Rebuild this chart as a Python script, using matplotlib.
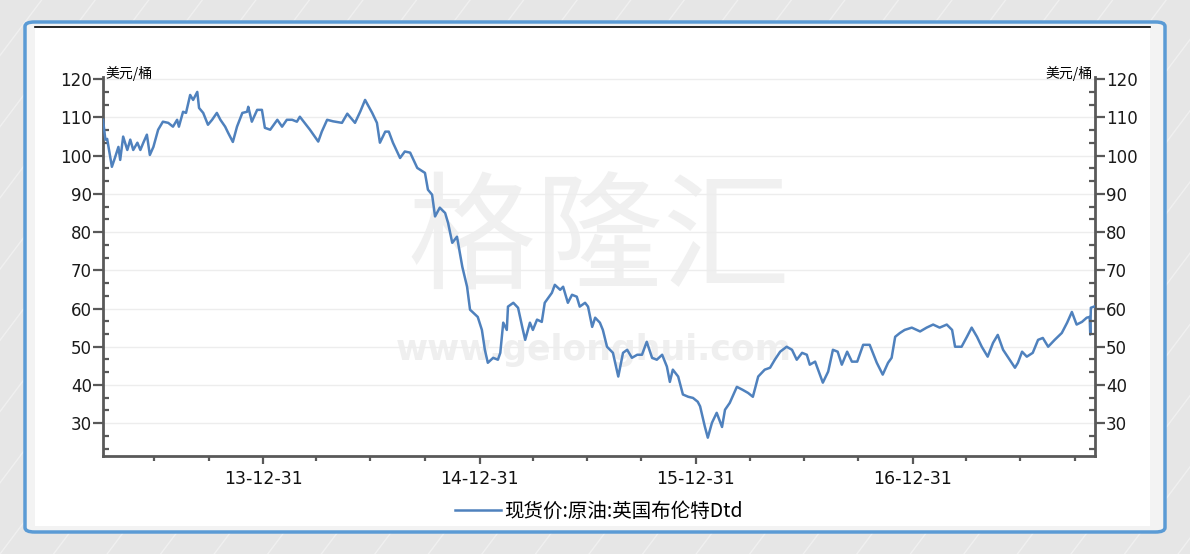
import matplotlib
matplotlib.use("Agg")
import matplotlib.pyplot as plt
import matplotlib.dates as mdates
from matplotlib.patches import FancyBboxPatch, Rectangle
from matplotlib.lines import Line2D
from matplotlib.ticker import MultipleLocator
import pandas as pd

plt.rcParams['font.family'] = ['Noto Sans CJK SC', 'DejaVu Sans']

# Brent Dtd spot price, USD/bbl
dates = [
    "2013-04-05", "2013-04-09", "2013-04-12", "2013-04-20", "2013-04-25", "2013-05-01",
    "2013-05-04", "2013-05-09", "2013-05-16", "2013-05-21", "2013-05-26", "2013-06-02",
    "2013-06-07", "2013-06-12", "2013-06-18", "2013-06-23", "2013-06-29", "2013-07-07",
    "2013-07-15", "2013-07-24", "2013-08-01", "2013-08-08", "2013-08-11", "2013-08-18",
    "2013-08-23", "2013-08-30", "2013-09-04", "2013-09-11", "2013-09-14", "2013-09-21",
    "2013-09-29", "2013-10-06", "2013-10-14", "2013-10-20", "2013-10-28", "2013-11-02",
    "2013-11-10", "2013-11-17", "2013-11-26", "2013-12-04", "2013-12-06", "2013-12-12",
    "2013-12-21", "2013-12-29", "2014-01-03", "2014-01-12", "2014-01-24", "2014-02-01",
    "2014-02-09", "2014-02-18", "2014-02-26", "2014-03-03", "2014-03-20", "2014-04-03",
    "2014-04-09", "2014-04-18", "2014-04-28", "2014-05-13", "2014-05-22", "2014-06-04",
    "2014-06-13", "2014-06-21", "2014-07-03", "2014-07-11", "2014-07-16", "2014-07-25",
    "2014-07-31", "2014-08-07", "2014-08-19", "2014-08-27", "2014-09-05", "2014-09-17",
    "2014-09-30", "2014-10-05", "2014-10-12", "2014-10-17", "2014-10-25", "2014-11-03",
    "2014-11-08", "2014-11-15", "2014-11-23", "2014-12-02", "2014-12-10", "2014-12-15",
    "2014-12-28", "2015-01-04", "2015-01-09", "2015-01-14", "2015-01-23", "2015-01-31",
    "2015-02-04", "2015-02-09", "2015-02-15", "2015-02-17", "2015-02-26", "2015-03-06",
    "2015-03-13", "2015-03-18", "2015-03-26", "2015-03-31", "2015-04-07", "2015-04-15",
    "2015-04-20", "2015-05-02", "2015-05-07", "2015-05-16", "2015-05-21", "2015-05-29",
    "2015-06-05", "2015-06-13", "2015-06-18", "2015-06-27", "2015-07-02", "2015-07-09",
    "2015-07-14", "2015-07-22", "2015-07-27", "2015-08-03", "2015-08-13", "2015-08-22",
    "2015-08-30", "2015-09-06", "2015-09-14", "2015-09-23", "2015-10-01", "2015-10-09",
    "2015-10-18", "2015-10-26", "2015-11-04", "2015-11-12", "2015-11-17", "2015-11-22",
    "2015-12-01", "2015-12-09", "2015-12-18", "2015-12-26", "2016-01-03", "2016-01-07",
    "2016-01-15", "2016-01-20", "2016-01-27", "2016-02-04", "2016-02-13", "2016-02-18",
    "2016-02-26", "2016-03-09", "2016-03-19", "2016-03-28", "2016-04-05", "2016-04-14",
    "2016-04-25", "2016-05-04", "2016-05-12", "2016-05-21", "2016-06-01", "2016-06-10",
    "2016-06-18", "2016-06-27", "2016-07-05", "2016-07-10", "2016-07-19", "2016-08-01",
    "2016-08-10", "2016-08-18", "2016-08-26", "2016-09-02", "2016-09-11", "2016-09-19",
    "2016-09-28", "2016-10-08", "2016-10-19", "2016-10-31", "2016-11-10", "2016-11-19",
    "2016-11-25", "2016-12-01", "2016-12-09", "2016-12-17", "2016-12-29", "2017-01-12",
    "2017-01-23", "2017-02-03", "2017-02-14", "2017-02-26", "2017-03-07", "2017-03-12",
    "2017-03-23", "2017-04-01", "2017-04-09", "2017-04-18", "2017-04-26", "2017-05-06",
    "2017-05-15", "2017-05-23", "2017-06-01", "2017-06-12", "2017-06-21", "2017-06-26",
    "2017-07-03", "2017-07-11", "2017-07-21", "2017-07-30", "2017-08-07", "2017-08-16",
    "2017-08-27", "2017-09-08", "2017-09-17", "2017-09-25", "2017-10-03", "2017-10-12",
    "2017-10-20", "2017-10-25", "2017-10-26", "2017-10-27", "2017-11-03",
]
prices = [
    109.4, 104.2, 104.4, 97.1, 99.4, 102.3,
    98.9, 105.0, 101.5, 104.2, 101.5, 103.4,
    101.5, 103.4, 105.5, 100.2, 102.3, 106.8,
    108.9, 108.6, 107.6, 109.4, 107.6, 111.5,
    111.2, 115.9, 114.6, 116.7, 112.5, 111.2,
    108.1, 109.4, 111.2, 109.4, 107.6, 106.0,
    103.6, 107.6, 111.2, 111.5, 112.8, 108.9,
    112.0, 112.0, 107.3, 106.8, 109.4, 107.6,
    109.4, 109.4, 108.9, 110.2, 106.8, 103.7,
    106.3, 109.4, 109.0, 108.6, 111.0, 108.6,
    111.6, 114.6, 111.2, 108.6, 103.4, 106.3,
    106.3, 103.4, 99.4, 101.1, 100.8, 96.8,
    95.5, 91.1, 89.8, 84.1, 86.4, 85.0,
    82.4, 77.2, 78.8, 70.9, 65.7, 59.7,
    57.8, 54.4, 49.2, 45.8, 47.1, 46.6,
    48.4, 56.3, 54.4, 60.5, 61.5, 60.2,
    55.2, 51.8, 56.3, 54.4, 57.1, 56.5,
    61.5, 64.1, 66.2, 64.9, 65.7, 61.5,
    63.6, 63.1, 60.5, 61.5, 60.5, 55.2,
    57.6, 56.3, 54.4, 50.0, 48.4, 42.2,
    48.4, 49.2, 47.1, 47.9, 47.9, 51.3,
    47.1, 46.6, 47.9, 44.8, 40.8, 44.0,
    42.2, 37.5, 36.9, 36.6, 35.6, 34.4,
    29.1, 26.2, 30.1, 32.7, 29.0, 33.5,
    35.3, 39.5, 38.7, 37.9, 36.9, 42.2,
    44.0, 44.5, 46.6, 48.7, 50.0, 49.2,
    46.6, 48.4, 47.9, 45.3, 46.1, 40.6,
    43.5, 49.2, 48.7, 45.3, 48.7, 46.1,
    46.1, 50.5, 50.5, 45.8, 42.7, 45.8,
    47.1, 52.6, 53.6, 54.4, 55.0, 54.0,
    55.0, 55.8, 55.0, 55.8, 54.4, 50.0,
    50.0, 52.6, 55.0, 52.6, 50.0, 47.4,
    51.0, 53.1, 49.2, 46.6, 44.5, 45.8,
    48.7, 47.4, 48.4, 51.8, 52.3, 50.0,
    51.8, 53.6, 56.3, 59.1, 55.8, 56.5,
    57.6, 57.8, 53.2, 60.2, 60.6,
]

unit = "美元/桶"
series_name = "现货价:原油:英国布伦特Dtd"
y_ticks = [30, 40, 50, 60, 70, 80, 90, 100, 110, 120]
quarter_ends = ["2013-06-30", "2013-09-30", "2014-03-31", "2014-06-30", "2014-09-30",
                "2015-03-31", "2015-06-30", "2015-09-30", "2016-03-31", "2016-06-30",
                "2016-09-30", "2017-03-31", "2017-06-30", "2017-09-30"]

line_color = "#4f81bd"
axis_color = "#595959"

x = pd.to_datetime(dates)

fig = plt.figure(figsize=(11.9, 5.54), dpi=100)
fig.patch.set_facecolor("#e6e6e6")

# striped background and framed white panel
for i in range(-10, 40):
    fig.add_artist(Line2D([i * 0.045, i * 0.045 + 0.35], [0, 1], transform=fig.transFigure,
                          color="#f0f0f0", lw=1.0, zorder=-5))
fig.add_artist(FancyBboxPatch((25 / 1190, 22 / 554), 1140 / 1190, 510 / 554,
                              boxstyle="round,pad=0,rounding_size=0.008",
                              transform=fig.transFigure, facecolor="#f3f3f3",
                              edgecolor="#5b9bd5", lw=2.5, zorder=-4))
fig.add_artist(Rectangle((35 / 1190, 28 / 554), 1115 / 1190, 499 / 554,
                         transform=fig.transFigure, facecolor="white",
                         edgecolor="none", zorder=-3))
fig.add_artist(Line2D([35 / 1190, 1150 / 1190], [527 / 554, 527 / 554],
                      transform=fig.transFigure, color="black", lw=1.2, zorder=-2))

ax = fig.add_axes([103 / 1190, 98 / 554, 992 / 1190, 379 / 554])
ax.set_facecolor("none")
ax.plot(x, prices, color=line_color, lw=1.8, zorder=3, label=series_name)

ax.set_xlim(pd.Timestamp("2013-04-05"), pd.Timestamp("2017-11-03"))
ax.set_ylim(21.4, 120.6)

ax.set_yticks(y_ticks)
ax.yaxis.set_minor_locator(MultipleLocator(10 / 3))
ax.grid(axis="y", which="major", color="#ededed", lw=1, zorder=0)

ax.xaxis.set_major_locator(mdates.YearLocator(month=12, day=31))
ax.xaxis.set_major_formatter(mdates.DateFormatter("%y-%m-%d"))
ax.set_xticks(pd.to_datetime(quarter_ends), minor=True)

for s in ["left", "right", "bottom"]:
    ax.spines[s].set_color(axis_color)
    ax.spines[s].set_linewidth(2)
ax.spines["top"].set_visible(False)

ax.tick_params(axis="y", which="major", direction="out", length=7, width=1.6,
               color=axis_color, labelsize=12, pad=1, labelcolor="#1a1a1a",
               labelfontfamily="DejaVu Sans")
ax.tick_params(axis="y", which="minor", direction="in", length=4, width=1.6, color=axis_color)
ax.tick_params(axis="x", which="major", direction="out", length=6, width=1.6,
               color=axis_color, labelsize=12.5, pad=4, labelcolor="#111111",
               labelfontfamily="DejaVu Sans")
ax.tick_params(axis="x", which="minor", direction="out", length=3.5, width=1.6, color=axis_color)

ax2 = ax.twinx()
ax2.set_ylim(ax.get_ylim())
ax2.set_yticks(y_ticks)
ax2.yaxis.set_minor_locator(MultipleLocator(10 / 3))
for s in ["left", "right", "bottom", "top"]:
    ax2.spines[s].set_visible(False)
ax2.tick_params(axis="y", which="major", direction="out", length=7, width=1.6,
                color=axis_color, labelsize=12, pad=1, labelcolor="#1a1a1a",
                labelfontfamily="DejaVu Sans")
ax2.tick_params(axis="y", which="minor", direction="in", length=4, width=1.6, color=axis_color)

ax.text(0.002, 0.99, unit, transform=ax.transAxes, fontsize=10, ha="left", va="bottom")
ax.text(0.998, 0.99, unit, transform=ax.transAxes, fontsize=10, ha="right", va="bottom")

# watermark
ax.text(0.5, 0.56, "格隆汇", transform=ax.transAxes, fontsize=92, color="#f0f0f0",
        ha="center", va="center", zorder=1)
ax.text(0.495, 0.28, "www.gelonghui.com", transform=ax.transAxes, fontsize=25,
        fontweight="bold", family="DejaVu Sans", color="#efefef", ha="center", va="center",
        zorder=1)

fig.legend(handles=ax.get_lines(), loc="center", bbox_to_anchor=(0.503, 0.077),
           frameon=False, fontsize=14, handlelength=2.4, handletextpad=0.15)

fig.savefig("out.png", dpi=100, facecolor=fig.get_facecolor())
